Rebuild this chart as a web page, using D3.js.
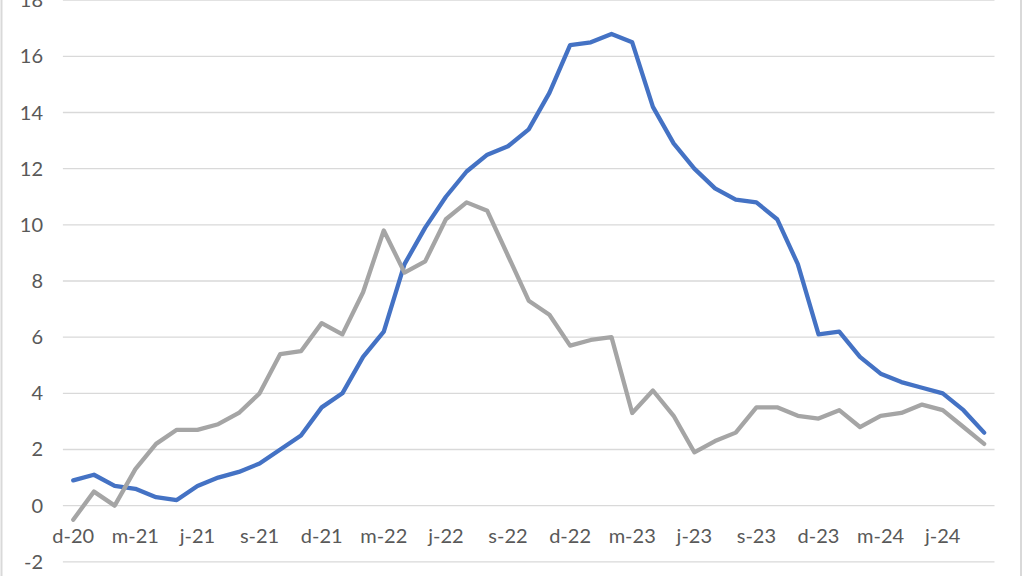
<!DOCTYPE html>
<html>
<head>
<meta charset="utf-8">
<script src="https://cdn.jsdelivr.net/npm/d3@7"></script>
<style>
  html, body { margin: 0; padding: 0; background: #fff; }
  svg { display: block; }
  .tick-label { font-family: Lato, "Open Sans", sans-serif; font-size: 20px; fill: #595959; }
</style>
</head>
<body>
<div id="chart"></div>
<script>
// monthly categories, dic-20 to ago-24
const meses = [
    "dic-20", "ene-21", "feb-21", "mar-21", "abr-21", "may-21", "jun-21", "jul-21", "ago-21", "sep-21", "oct-21", "nov-21",
    "dic-21", "ene-22", "feb-22", "mar-22", "abr-22", "may-22", "jun-22", "jul-22", "ago-22", "sep-22", "oct-22", "nov-22",
    "dic-22", "ene-23", "feb-23", "mar-23", "abr-23", "may-23", "jun-23", "jul-23", "ago-23", "sep-23", "oct-23", "nov-23",
    "dic-23", "ene-24", "feb-24", "mar-24", "abr-24", "may-24", "jun-24", "jul-24", "ago-24"
];

// blue series
const serieAzul = [
    0.9, 1.1, 0.7, 0.6, 0.3, 0.2, 0.7, 1.0, 1.2, 1.5, 2.0, 2.5,
    3.5, 4.0, 5.3, 6.2, 8.6, 9.9, 11.0, 11.9, 12.5, 12.8, 13.4, 14.7,
    16.4, 16.5, 16.8, 16.5, 14.2, 12.9, 12.0, 11.3, 10.9, 10.8, 10.2, 8.6,
    6.1, 6.2, 5.3, 4.7, 4.4, 4.2, 4.0, 3.4, 2.6
];

// gray series
const serieGris = [
    -0.5, 0.5, 0.0, 1.3, 2.2, 2.7, 2.7, 2.9, 3.3, 4.0, 5.4, 5.5,
    6.5, 6.1, 7.6, 9.8, 8.3, 8.7, 10.2, 10.8, 10.5, 8.9, 7.3, 6.8,
    5.7, 5.9, 6.0, 3.3, 4.1, 3.2, 1.9, 2.3, 2.6, 3.5, 3.5, 3.2,
    3.1, 3.4, 2.8, 3.2, 3.3, 3.6, 3.4, 2.8, 2.2
];

// axis labels every third month
const tickMeses = ["dic-20", "mar-21", "jun-21", "sep-21", "dic-21", "mar-22", "jun-22", "sep-22",
                   "dic-22", "mar-23", "jun-23", "sep-23", "dic-23", "mar-24", "jun-24"];
const tickLabels = ["d-20", "m-21", "j-21", "s-21", "d-21", "m-22", "j-22", "s-22",
                    "d-22", "m-23", "j-23", "s-23", "d-23", "m-24", "j-24"];
const yTicks = [-2, 0, 2, 4, 6, 8, 10, 12, 14, 16, 18];

const width = 1024, height = 576;

const svg = d3.select("#chart").append("svg")
    .attr("width", width)
    .attr("height", height);

// chart area border
svg.append("rect")
    .attr("x", 1.5).attr("y", -5)
    .attr("width", 1019.5).attr("height", height + 10)
    .attr("fill", "none")
    .attr("stroke", "#d9d9d9")
    .attr("stroke-width", 2);

// scales
const x = d3.scalePoint()
    .domain(meses)
    .range([62.9, 994.5])
    .padding(0.5);

const y = d3.scaleLinear()
    .domain([-2, 18])
    .range([561.8, 0.2]);

// gridlines
svg.append("g")
    .selectAll("line")
    .data(yTicks)
    .enter().append("line")
    .attr("x1", 62.9)
    .attr("x2", 994.5)
    .attr("y1", d => y(d))
    .attr("y2", d => y(d))
    .attr("stroke", "#d9d9d9")
    .attr("stroke-width", 1.3);

// y labels
svg.append("g")
    .selectAll("text")
    .data(yTicks)
    .enter().append("text")
    .attr("class", "tick-label")
    .attr("x", 43)
    .attr("y", d => y(d))
    .attr("dy", "0.35em")
    .attr("text-anchor", "end")
    .text(d => d);

// x labels
svg.append("g")
    .selectAll("text")
    .data(tickMeses)
    .enter().append("text")
    .attr("class", "tick-label")
    .attr("x", d => x(d))
    .attr("y", 536)
    .attr("dy", "0.35em")
    .attr("text-anchor", "middle")
    .text((d, i) => tickLabels[i]);

// lines, gray drawn on top
const line = d3.line()
    .x((d, i) => x(meses[i]))
    .y(d => y(d));

[[serieAzul, "#4472c4"], [serieGris, "#a5a5a5"]].forEach(([serie, color]) => {
    svg.append("path")
        .datum(serie)
        .attr("d", line)
        .attr("fill", "none")
        .attr("stroke", color)
        .attr("stroke-width", 4.3)
        .attr("stroke-linejoin", "round")
        .attr("stroke-linecap", "round");
});
</script>
</body>
</html>
